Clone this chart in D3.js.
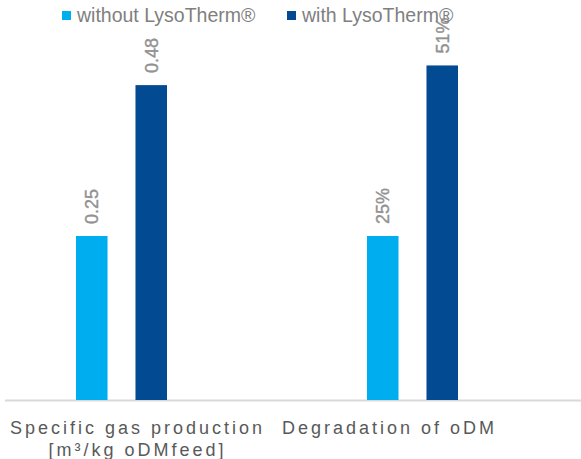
<!DOCTYPE html>
<html>
<head>
<meta charset="utf-8">
<script src="https://cdn.jsdelivr.net/npm/d3@7"></script>
<style>
  body { margin: 0; background: #fff; }
  svg { display: block; font-family: "Liberation Sans", Arial, sans-serif; }
</style>
</head>
<body>
<svg id="chart" width="581" height="459"></svg>
<script>
// chart data
var categories = ["Specific gas production", "Degradation of oDM"];
var categorySubLines = [["Specific gas production", "[m³/kg oDMfeed]"], ["Degradation of oDM"]];
var seriesNames = ["without LysoTherm®", "with LysoTherm®"];
var withoutValues = [0.25, 0.25];
var withValues = [0.48, 0.51];
var valueLabels = [["0.25", "25%"], ["0.48", "51%"]];

var colors = ["#00aeef", "#024b93"];

var svg = d3.select("#chart");
var baseY = 400;

// outer band per category, inner band per series
var x0 = d3.scaleBand().domain(categories).range([-24, 558]);
var x1 = d3.scaleBand().domain(seriesNames).range([0, 91]).paddingInner(0.47);
var groupOffset = (x0.bandwidth() - 91) / 2;
var y = d3.scaleLinear().domain([0, 0.6]).range([baseY, baseY - 0.6 * 656]);

var rows = [];
categories.forEach(function (c, i) {
    rows.push({ cat: c, series: seriesNames[0], value: withoutValues[i], label: valueLabels[0][i], color: colors[0] });
    rows.push({ cat: c, series: seriesNames[1], value: withValues[i], label: valueLabels[1][i], color: colors[1] });
});

// axis line
svg.append("line")
    .attr("x1", 5).attr("x2", 581)
    .attr("y1", baseY + 0.5).attr("y2", baseY + 0.5)
    .attr("stroke", "#d9d9d9")
    .attr("stroke-width", 2);

var g = svg.append("g");

g.selectAll(".bar").data(rows).enter()
    .append("rect")
    .attr("class", "bar")
    .attr("x", d => x0(d.cat) + groupOffset + x1(d.series))
    .attr("width", x1.bandwidth())
    .attr("y", d => y(d.value))
    .attr("height", d => baseY - y(d.value))
    .attr("fill", d => d.color);

// rotated value labels
g.selectAll(".vlabel").data(rows).enter()
    .append("text")
    .attr("class", "vlabel")
    .attr("transform", d => "translate(" + (x0(d.cat) + groupOffset + x1(d.series) + x1.bandwidth() / 2) + "," + (y(d.value) - 12) + ") rotate(-90)")
    .attr("dy", "0.35em")
    .attr("text-anchor", "start")
    .attr("font-size", "18px")
    .attr("fill", "#929292")
    .attr("stroke", "#929292")
    .attr("stroke-width", 0.4)
    .text(d => d.label);

// category labels
var labelShift = [16, -23];
var cats = svg.selectAll(".cat").data(categories).enter()
    .append("text")
    .attr("class", "cat")
    .attr("text-anchor", "middle")
    .attr("font-size", "18px")
    .attr("letter-spacing", "3px")
    .attr("fill", "#595959");

cats.each(function (c, i) {
    var t = d3.select(this);
    categorySubLines[i].forEach(function (line, j) {
        t.append("tspan")
            .attr("x", x0(c) + x0.bandwidth() / 2 + labelShift[i])
            .attr("y", 434 + j * 22)
            .text(line);
    });
});

// legend
var legendX = [62, 287];
var legend = svg.selectAll(".legend").data(seriesNames).enter()
    .append("g")
    .attr("class", "legend")
    .attr("transform", (d, i) => "translate(" + legendX[i] + ",0)");

legend.append("rect")
    .attr("x", 0).attr("y", 11)
    .attr("width", 9).attr("height", 9)
    .attr("fill", (d, i) => colors[i]);

legend.append("text")
    .attr("x", 15).attr("y", 22)
    .attr("font-size", "19.5px")
    .attr("fill", "#7f7f7f")
    .text(d => d);
</script>
</body>
</html>
